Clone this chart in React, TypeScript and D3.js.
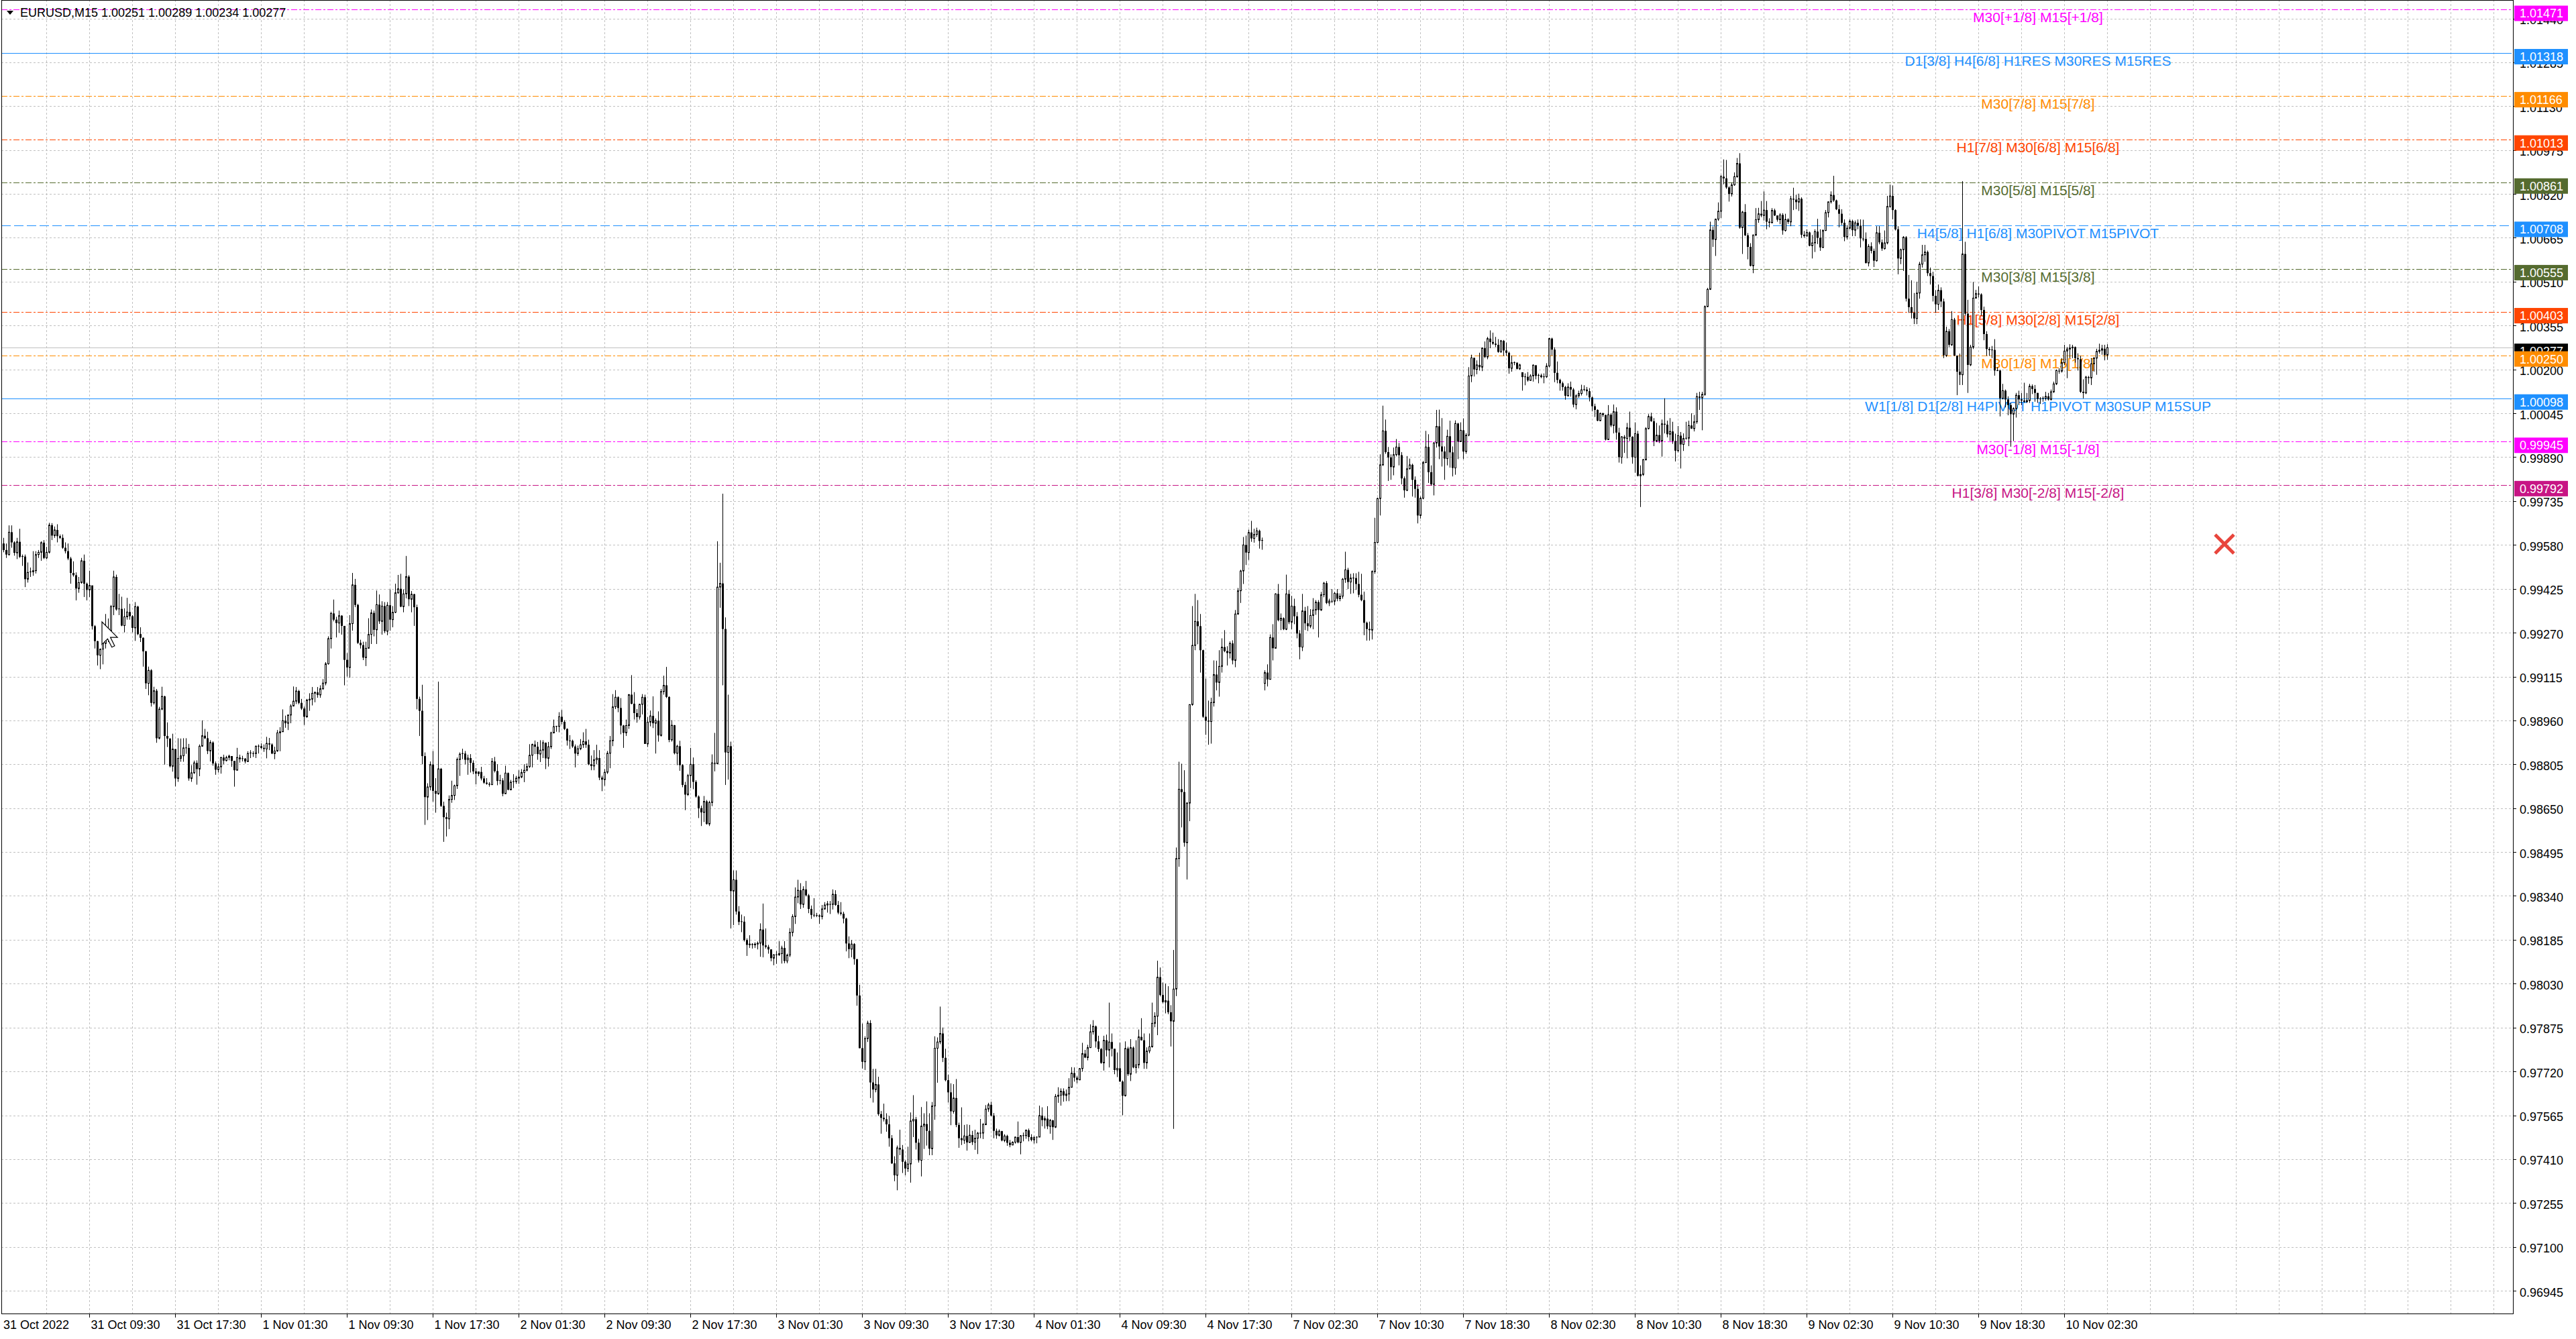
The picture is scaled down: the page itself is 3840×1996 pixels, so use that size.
import React from "react";
import * as d3 from "d3";

// EURUSD M15 bars, prices in points (1 pt = 0.00001). Each bar: [high, low, close]; open = previous close
const oct31: number[][] = [
[99605,99554,99562],[99585,99534,99546],[99649,99542,99625],[99649,99570,99589],[99593,99542,99552],[99605,99530,99591],[99637,99534,99538],[99546,99506,99539],[99546,99431,99459],[99518,99447,99483],
[99500,99467,99485],[99558,99471,99489],[99558,99479,99546],[99562,99534,99554],[99593,99524,99588],[99597,99530,99534],[99573,99530,99554],[99658,99550,99650],[99657,99597,99613],[99645,99605,99633],
[99653,99589,99611],[99617,99601,99605],[99617,99566,99570],[99589,99550,99558],[99585,99526,99532],[99538,99443,99481],[99522,99468,99473],[99483,99384,99426],[99467,99411,99447],[99534,99443,99524],
[99546,99396,99443],[99447,99384,99421],[99489,99396,99437],[99435,99281,99293],[99297,99214,99240],[99241,99154,99190],[99214,99141,99212],[99245,99158,99232],[99336,99214,99245],[99320,99237,99277],
[99368,99273,99362],[99489,99332,99467],[99475,99348,99352],[99407,99332,99354],[99397,99293,99295],[99356,99271,99326],[99393,99316,99343],[99372,99316,99328],[99332,99271,99287],[99378,99241,99362],
[99365,99261,99265],[99289,99237,99252],[99253,99150,99204],[99206,99071,99091],[99150,99049,99137],[99141,99009,99022],[99079,99016,99065],[99071,98881,98897],[99008,98893,99000],[99079,98996,99045],
[99047,98804,98905],[98953,98866,98896],[98897,98794,98798],[98913,98779,98859],[98854,98727,98755],[98897,98743,98826],[98896,98814,98835],[98897,98814,98863],[98897,98842,98863],[98877,98747,98755],
[98802,98743,98775],[98818,98771,98810],[98819,98733,98788],[98875,98763,98869],[98960,98867,98906],[98930,98894,98897],[98920,98841,98852],[98890,98815,98882],[98886,98800,98808],[98815,98768,98786],
[98808,98776,98796],[98831,98772,98829],[98839,98805,98818],[98835,98815,98829],[98839,98819,98834],[98834,98796,98817],[98804,98726,98784],[98863,98784,98829],[98839,98811,98823],[98835,98815,98825]
];
const nov1: number[][] = [
[98827,98808,98815],[98851,98813,98843],[98855,98827,98845],[98851,98831,98843],[98871,98827,98869],[98875,98843,98869],[98879,98859,98863],[98875,98849,98859],[98902,98826,98879],[98898,98855,98875],
[98879,98841,98843],[98867,98823,98852],[98926,98849,98916],[98936,98851,98920],[98999,98922,98959],[98977,98934,98950],[98981,98926,98979],[99017,98950,99011],[99080,99009,99028],[99078,99018,99064],
[99068,99017,99022],[99036,98997,99002],[99009,98944,98973],[99036,98969,99032],[99056,98994,99035],[99078,99013,99056],[99062,99024,99059],[99078,99040,99050],[99084,99040,99072],[99106,99068,99092],
[99166,99084,99160],[99257,99157,99249],[99344,99214,99338],[99387,99310,99316],[99326,99253,99304],[99348,99269,99330],[99332,99263,99294],[99293,99084,99174],[99198,99115,99147],[99332,99111,99302],
[99481,99277,99439],[99460,99360,99368],[99372,99230,99234],[99245,99214,99226],[99238,99173,99182],[99238,99152,99215],[99321,99214,99264],[99352,99230,99340],[99348,99257,99280],[99419,99230,99369],
[99405,99301,99310],[99381,99263,99364],[99378,99269,99275],[99378,99261,99367],[99423,99277,99316],[99364,99289,99342],[99443,99339,99411],[99474,99407,99425],[99478,99360,99362],[99423,99342,99407],
[99541,99391,99468],[99473,99364,99388],[99417,99342,99406],[99407,99294,99360],[99369,98999,99036],[99044,98905,98994],[99086,98805,98834],[98847,98591,98689],[98738,98608,98725],[98815,98713,98804],
[98852,98673,98711],[98756,98634,98701],[99097,98697,98789],[98792,98654,98658],[98673,98531,98618],[98634,98550,98612],[98695,98576,98681],[98747,98669,98695],[98733,98679,98729],[98829,98718,98822],
[98847,98764,98841],[98860,98823,98843],[98852,98805,98821],[98839,98768,98827],[98841,98776,98810],[98819,98770,98780],[98792,98734,98772],[98780,98763,98778],[98796,98748,98755],[98764,98736,98740],
[98756,98733,98736],[98742,98726,98733],[98827,98733,98815],[98831,98776,98781],[98805,98731,98746],[98768,98734,98748]
];
const nov2: number[][] = [
[98756,98692,98701],[98800,98701,98774],[98776,98713,98715],[98750,98713,98742],[98770,98721,98744],[98764,98736,98756],[98784,98736,98760],[98788,98756,98776],[98805,98742,98784],[98808,98780,98797],
[98876,98792,98837],[98878,98794,98875],[98889,98841,98867],[98884,98821,98841],[98890,98813,98855],[98890,98827,98881],[98882,98788,98826],[98884,98797,98867],[98920,98859,98916],[98963,98914,98938],
[98941,98920,98939],[98989,98918,98973],[98997,98946,98955],[98961,98926,98930],[98932,98871,98889],[98908,98859,98888],[98892,98863,98868],[98875,98794,98843],[98871,98835,98860],[98894,98855,98874],
[98918,98863,98886],[98930,98863,98874],[98892,98802,98805],[98836,98784,98799],[98855,98784,98821],[98874,98805,98827],[98855,98749,98758],[98765,98710,98751],[98788,98729,98777],[98852,98771,98844],
[98905,98791,98888],[99053,98869,99008],[99067,99000,99042],[99045,98989,99004],[99039,98911,98942],[98944,98863,98916],[98963,98905,98942],[99053,98930,99051],[99120,99017,99019],[99060,98963,98986],
[99000,98952,98972],[99019,98963,99017],[99053,98981,99042],[99051,98877,98877],[98972,98866,98954],[98995,98939,98976],[99045,98933,98950],[98967,98843,98959],[98992,98885,98907],[99071,98903,99062],
[99118,99051,99084],[99149,99039,99043],[99045,98883,98891],[98961,98885,98943],[98944,98840,98844],[98874,98802,98869],[98888,98782,98802],[98805,98724,98732],[98743,98643,98698],[98771,98693,98765],
[98863,98721,98805],[98829,98717,98743],[98749,98687,98691],[98695,98615,98650],[98659,98587,98635],[98693,98601,98674],[98679,98592,98594],[98676,98587,98670],[98840,98657,98810],[98916,98780,98807],
[99593,98805,99431],[99517,99358,99444],[99761,99084,99283],[99324,98732,98847],[99051,98751,98869],[98885,98225,98357],[98430,98237,98397],[98430,98274,98285],[98304,98237,98248],[98274,98212,98249],
[98268,98179,98184],[98190,98128,98167],[98201,98156,98170],[98173,98154,98167],[98176,98156,98170],[98179,98151,98173]
];
const nov3: number[][] = [
[98243,98125,98221],[98313,98123,98165],[98225,98154,98160],[98167,98136,98151],[98151,98109,98120],[98134,98095,98132],[98145,98100,98132],[98180,98128,98136],[98164,98101,98156],[98180,98102,98110],
[98136,98102,98131],[98226,98124,98211],[98275,98197,98267],[98370,98241,98336],[98397,98314,98360],[98385,98294,98310],[98374,98298,98363],[98393,98338,98342],[98347,98279,98294],[98306,98259,98273],
[98332,98265,98272],[98280,98265,98271],[98275,98241,98267],[98308,98257,98294],[98318,98291,98308],[98322,98281,98312],[98322,98276,98310],[98363,98292,98346],[98360,98305,98308],[98322,98275,98281],
[98318,98271,98277],[98284,98243,98260],[98263,98144,98172],[98197,98120,98152],[98184,98123,98170],[98173,98097,98117],[98113,97952,97988],[98026,97802,97802],[97889,97730,97754],[97844,97725,97836],
[97899,97824,97891],[97901,97626,97681],[97729,97610,97656],[97729,97646,97674],[97701,97563,97569],[97580,97500,97556],[97606,97543,97551],[97572,97507,97533],[97563,97454,97484],[97495,97393,97395],
[97420,97332,97353],[97458,97300,97450],[97514,97424,97444],[97460,97361,97401],[97406,97353,97377],[97454,97365,97393],[97575,97327,97545],[97636,97488,97551],[97559,97444,97468],[97482,97398,97406],
[97594,97349,97527],[97572,97446,97534],[97614,97458,97510],[97572,97424,97447],[97612,97424,97598],[97844,97549,97802],[97840,97680,97824],[97949,97816,97854],[97875,97753,97768],[97800,97685,97689],
[97709,97610,97646],[97678,97530,97579],[97675,97571,97626],[97693,97523,97531],[97539,97450,97484],[97593,97460,97477],[97531,97464,97492],[97533,97440,97469],[97531,97468,97495],[97510,97460,97470],
[97514,97443,97484],[97506,97428,97502],[97552,97484,97502],[97538,97481,97532],[97601,97530,97587],[97609,97577,97602],[97613,97561,97564],[97573,97484,97510],[97518,97482,97494],[97515,97490,97509],
[97510,97473,97476],[97498,97470,97492],[97496,97457,97468],[97478,97452,97460],[97473,97462,97470],[97489,97465,97488]
];
const nov4: number[][] = [
[97543,97466,97469],[97495,97427,97493],[97504,97473,97493],[97515,97482,97512],[97518,97473,97488],[97498,97473,97478],[97492,97465,97486],[97490,97466,97488],[97599,97488,97564],[97593,97526,97548],
[97561,97518,97553],[97597,97516,97526],[97552,97500,97547],[97549,97478,97523],[97640,97520,97632],[97664,97609,97636],[97660,97599,97650],[97660,97613,97635],[97656,97615,97640],[97696,97615,97664],
[97735,97663,97714],[97734,97684,97698],[97704,97678,97690],[97731,97692,97730],[97821,97719,97783],[97796,97767,97769],[97814,97759,97804],[97886,97803,97860],[97901,97850,97879],[97882,97804,97826],
[97846,97789,97799],[97803,97747,97750],[97846,97723,97830],[97850,97773,97795],[97963,97734,97824],[97854,97773,97800],[97799,97710,97725],[97787,97700,97731],[97822,97684,97684],[97688,97565,97634],
[97826,97631,97801],[97807,97704,97710],[97834,97686,97804],[97808,97731,97734],[97830,97713,97743],[97868,97731,97842],[97908,97829,97830],[97854,97729,97750],[97805,97729,97792],[97854,97784,97807],
[97963,97804,97890],[97929,97876,97915],[98111,97848,98053],[98087,97985,97990],[98034,97961,97965],[98030,97925,97970],[98021,97922,97929],[97954,97808,97897],[98149,97517,98011],[98511,97986,98472],
[98814,98443,98717],[98807,98582,98707],[98784,98514,98528],[98671,98398,98668],[99016,98604,99016],[99364,99012,99225],[99407,99208,99310],[99385,99229,99293],[99336,99129,99208],[99210,98969,98973],
[99108,98909,98959],[99030,98874,98956],[99040,98878,99023],[99172,99009,99122],[99171,99066,99094],[99208,99044,99151],[99250,99129,99219],[99279,99201,99205],[99222,99154,99198],[99239,99179,99232],
[99243,99158,99172],[99350,99148,99336],[99428,99333,99418],[99492,99375,99488],[99608,99442,99580],[99613,99509,99553],[99634,99527,99624],[99665,99591,99603],[99637,99588,99617],[99641,99608,99630],
[99634,99567,99594],[99606,99563,99596]
];
const nov7: number[][] = [
[99137,99066,99129],[99158,99080,99105],[99264,99115,99253],[99300,99172,99215],[99409,99215,99407],[99442,99310,99314],[99338,99279,99321],[99324,99279,99282],[99475,99279,99407],[99421,99300,99307],
[99400,99282,99364],[99390,99300,99328],[99343,99250,99267],[99279,99176,99219],[99407,99205,99347],[99361,99279,99303],[99364,99276,99293],[99353,99286,99331],[99392,99282,99350],[99385,99333,99378],
[99385,99253,99350],[99414,99347,99404],[99449,99395,99445],[99452,99371,99375],[99390,99364,99382],[99424,99375,99381],[99414,99367,99409],[99424,99381,99390],[99409,99381,99399],[99463,99390,99459],
[99556,99446,99492],[99499,99424,99449],[99478,99407,99463],[99480,99409,99463],[99480,99421,99442],[99485,99395,99404],[99478,99381,99385],[99415,99261,99305],[99309,99242,99283],[99309,99242,99279],
[99490,99246,99486],[99676,99478,99589],[99747,99586,99744],[99900,99684,99863],[100072,99859,99983],[100023,99902,99908],[99926,99806,99889],[99900,99810,99855],[99924,99826,99899],[99954,99893,99926],
[99940,99861,99897],[99908,99794,99815],[99822,99747,99773],[99894,99770,99849],[99885,99847,99863],[99867,99751,99810],[99822,99747,99778],[99794,99656,99684],[99751,99673,99745],[99877,99741,99871],
[99983,99869,99926],[99971,99799,99837],[99861,99790,99794],[99944,99755,99940],[100057,99924,99999],[100058,99883,99928],[100028,99857,99910],[99928,99810,99885],[99987,99861,99964],[100019,99853,99907],
[99928,99822,99852],[100020,99828,100009],[100011,99883,99945],[100013,99944,99985],[100027,99883,99910],[99975,99902,99968],[100208,99964,100177],[100252,100155,100241],[100241,100175,100200],[100232,100183,100216],
[100259,100196,100208],[100278,100194,100275],[100299,100240,100244],[100315,100236,100309],[100338,100275,100297],[100330,100287,100291],[100315,100279,100287],[100307,100259,100262],[100304,100259,100301],[100304,100248,100267],
[100295,100248,100259],[100263,100185,100204],[100249,100192,100224],[100228,100215,100224],[100224,100200,100202],[100220,100199,100216]
];
const nov8: number[][] = [
[100186,100125,100173],[100186,100144,100174],[100191,100157,100161],[100183,100170,100177],[100218,100157,100215],[100212,100165,100177],[100185,100151,100179],[100185,100169,100173],[100186,100151,100174],[100222,100170,100212],
[100312,100208,100309],[100312,100249,100270],[100278,100155,100188],[100228,100151,100163],[100167,100125,100151],[100157,100125,100138],[100142,100093,100107],[100151,100104,100138],[100157,100104,100129],[100134,100066,100076],
[100112,100059,100107],[100125,100100,100115],[100146,100108,100128],[100144,100123,100129],[100138,100108,100123],[100134,100087,100101],[100104,100053,100070],[100079,100032,100057],[100059,100017,100019],[100047,100017,100045],
[100047,100032,100039],[100040,99949,99952],[100074,99952,100040],[100045,99996,100002],[100076,99974,100051],[100066,99952,99977],[99994,99871,99890],[99964,99867,99962],[99968,99905,99956],[100011,99886,99994],
[100051,99947,99962],[99964,99867,99890],[100013,99835,99973],[99983,99822,99824],[99861,99714,99829],[99884,99824,99881],[99996,99878,99991],[100042,99988,100034],[100047,100015,100017],[100028,99929,99947],
[100011,99943,99968],[100002,99940,99947],[100023,99892,100008],[100098,99974,100005],[100019,99960,99971],[100028,99947,99981],[100015,99937,99947],[99973,99875,99913],[100000,99907,99966],[99979,99850,99935],
[99974,99912,99956],[100015,99952,99957],[100019,99929,100002],[100045,99990,99991],[100039,99981,100015],[100117,100008,100104],[100121,100057,100100],[100121,99985,100112],[100426,100107,100422],[100488,100420,100483],
[100722,100481,100693],[100705,100633,100659],[100733,100601,100731],[100790,100725,100759],[100887,100735,100881],[100942,100854,100875],[100940,100838,100843],[100847,100793,100820],[100860,100811,100852],[100896,100849,100881],
[100947,100877,100928],[100964,100697,100701],[100760,100608,100756],[100784,100671,100674],[100682,100589,100633],[100646,100564,100566],[100676,100540,100675],[100770,100671,100729],[100771,100718,100750],[100795,100738,100744],
[100829,100726,100763],[100795,100695,100722],[100734,100702,100718],[100770,100718,100762],[100768,100742,100744],[100742,100722,100729]
];
const nov9: number[][] = [
[100752,100713,100746],[100752,100676,100691],[100750,100687,100730],[100734,100714,100721],[100813,100706,100803],[100842,100763,100800],[100817,100766,100791],[100821,100760,100803],[100808,100665,100676],[100689,100665,100671],
[100695,100675,100684],[100687,100635,100637],[100675,100592,100647],[100695,100615,100687],[100732,100643,100665],[100695,100619,100631],[100695,100629,100691],[100763,100689,100754],[100793,100737,100792],[100829,100786,100816],
[100884,100792,100797],[100800,100763,100766],[100782,100702,100750],[100766,100710,100718],[100730,100653,100668],[100710,100659,100699],[100730,100695,100724],[100729,100671,100692],[100726,100671,100718],[100730,100695,100708],
[100730,100631,100663],[100729,100653,100661],[100684,100574,100576],[100643,100564,100635],[100649,100610,100619],[100627,100562,100584],[100706,100581,100683],[100706,100642,100649],[100659,100619,100627],[100691,100623,100647],
[100813,100642,100776],[100853,100771,100813],[100850,100730,100763],[100766,100691,100695],[100706,100536,100592],[100627,100572,100623],[100671,100548,100667],[100671,100440,100450],[100534,100400,100420],[100515,100380,100400],
[100470,100360,100380],[100510,100360,100470],[100580,100450,100572],[100640,100560,100605],[100640,100580,100615],[100620,100530,100540],[100560,100500,100530],[100545,100440,100460],[100480,100400,100430],[100500,100410,100480],
[100490,100420,100440],[100450,100240,100250],[100351,100244,100335],[100343,100279,100287],[100406,100283,100376],[100382,100248,100249],[100248,100109,100192],[100256,100145,100181],[100865,100145,100608],[100651,100390,100397],
[100446,100117,100216],[100287,100212,100279],[100509,100272,100452],[100481,100450,100468],[100493,100454,100465],[100469,100390,100410],[100422,100303,100325],[100335,100248,100272],[100279,100248,100268],[100283,100240,100269],
[100307,100178,100196],[100208,100194,100196],[100199,100034,100098],[100149,100094,100125],[100129,100066,100094],[100105,100038,100074],[100082,99927,100042],[100066,99947,100062],[100117,100030,100109],[100125,100074,100094],
[100117,100074,100090],[100153,100082,100086],[100117,100082,100090],[100149,100082,100141],[100147,100113,100131],[100145,100086,100117]
];
const nov10: number[][] = [
[100117,100082,100096],[100102,100078,100096],[100105,100086,100098],[100121,100090,100105],[100117,100090,100094],[100129,100090,100121],[100157,100117,100149],[100200,100145,100196],[100204,100185,100194],[100240,100189,100224],
[100287,100215,100265],[100279,100169,100272],[100289,100240,100276],[100287,100240,100279],[100281,100224,100240],[100257,100196,100236],[100248,100117,100121],[100165,100098,100117],[100177,100113,100173],[100177,100149,100170],
[100240,100145,100220],[100244,100192,100240],[100273,100181,100264],[100291,100256,100268],[100287,100252,100273],[100287,100232,100251],[100289,100234,100277]
];
const sessions = [oct31, nov1, nov2, nov3, nov4, nov7, nov8, nov9, nov10];
const sessionOpens = [99585, 98825, 98748, 98173, 97488, 99091, 100190, 100729, 100117];

const symbolName = "EURUSD,M15";
const lastOHLC = [1.00251, 1.00289, 1.00234, 1.00277];

const timeLabels = [
  "31 Oct 2022", "31 Oct 09:30", "31 Oct 17:30", "1 Nov 01:30", "1 Nov 09:30", "1 Nov 17:30",
  "2 Nov 01:30", "2 Nov 09:30", "2 Nov 17:30", "3 Nov 01:30", "3 Nov 09:30", "3 Nov 17:30",
  "4 Nov 01:30", "4 Nov 09:30", "4 Nov 17:30", "7 Nov 02:30", "7 Nov 10:30", "7 Nov 18:30",
  "8 Nov 02:30", "8 Nov 10:30", "8 Nov 18:30", "9 Nov 02:30", "9 Nov 10:30", "9 Nov 18:30", "10 Nov 02:30"
];
const priceTicks = [
  0.96945, 0.971, 0.97255, 0.9741, 0.97565, 0.9772, 0.97875, 0.9803, 0.98185, 0.9834,
  0.98495, 0.9865, 0.98805, 0.9896, 0.99115, 0.9927, 0.99425, 0.9958, 0.99735, 0.9989,
  1.00045, 1.002, 1.00355, 1.0051, 1.00665, 1.0082, 1.00975, 1.0113, 1.01285, 1.0144
];
const levelPrices = [1.01471, 1.01318, 1.01166, 1.01013, 1.00861, 1.00708, 1.00555, 1.00403, 1.0025, 1.00098, 0.99945, 0.99792];
const levelTexts = [
  "M30[+1/8] M15[+1/8]",
  "D1[3/8] H4[6/8] H1RES M30RES M15RES",
  "M30[7/8] M15[7/8]",
  "H1[7/8] M30[6/8] M15[6/8]",
  "M30[5/8] M15[5/8]",
  "H4[5/8] H1[6/8] M30PIVOT M15PIVOT",
  "M30[3/8] M15[3/8]",
  "H1[5/8] M30[2/8] M15[2/8]",
  "M30[1/8] M15[1/8]",
  "W1[1/8] D1[2/8] H4PIVOT H1PIVOT M30SUP M15SUP",
  "M30[-1/8] M15[-1/8]",
  "H1[3/8] M30[-2/8] M15[-2/8]"
];

// ---- styles ----
const MAG = "#FF00FF", BLUE = "#1E90FF", ORG = "#FF8C00", RED = "#FF4500", OLV = "#556B2F", VIO = "#C71585";
const levelColors = [MAG, BLUE, ORG, RED, OLV, BLUE, OLV, RED, ORG, BLUE, MAG, VIO];
const DD = "9,3,3,3";
const levelDash = [DD, "", DD, DD, DD, "14,5", DD, DD, DD, "", DD, DD];
const FONT = "'Liberation Sans', Arial, sans-serif";

const W = 3840, H = 1996;
const PLOT_L = 2, PLOT_R = 3746, PLOT_B = 1958;

export default function App() {
  const bars: { o: number; h: number; l: number; c: number }[] = [];
  let prevClose = 0;
  sessions.forEach((s, si) => {
    s.forEach((b, bi) => {
      const oPts = bi === 0 ? sessionOpens[si] : prevClose;
      bars.push({ o: oPts / 1e5, h: b[0] / 1e5, l: b[1] / 1e5, c: b[2] / 1e5 });
      prevClose = b[2];
    });
  });
  const n = bars.length;
  const x = d3.scaleLinear().domain([0, 1]).range([5.5, 9.5]);
  const y = d3.scaleLinear().domain([0.96945, 1.0144]).range([1924.1, 27.5]);

  const vGrid: number[] = [];
  for (let k = 16; x(k) < PLOT_R; k += 16) vGrid.push(x(k));

  const lastClose = bars[n - 1].c;
  const ry = (p: number) => Math.round(y(p)) + 0.5;

  return (
    <svg width={W} height={H} style={{ position: "absolute", left: 0, top: 0, background: "#fff" }}>
      <rect x={0} y={0} width={W} height={H} fill="#fff" />
      {/* grid */}
      <g stroke="#C0C0C0" strokeWidth={1} strokeDasharray="3,3">
        {priceTicks.map((p, i) => (
          <line key={"h" + i} x1={PLOT_L} x2={PLOT_R} y1={ry(p)} y2={ry(p)} />
        ))}
        {vGrid.map((gx, i) => (
          <line key={"v" + i} x1={gx} x2={gx} y1={0} y2={PLOT_B} />
        ))}
      </g>
      {/* level lines */}
      {levelPrices.map((p, i) => (
        <line key={"lv" + i} x1={PLOT_L} x2={PLOT_R - 2} y1={ry(p)} y2={ry(p)}
          stroke={levelColors[i]} strokeWidth={1} strokeDasharray={levelDash[i] || undefined} />
      ))}
      {/* bid line */}
      <line x1={PLOT_L} x2={PLOT_R} y1={ry(lastClose)} y2={ry(lastClose)} stroke="#C0C0C0" strokeWidth={1} />
      {/* level texts */}
      {levelPrices.map((p, i) => (
        <text key={"lt" + i} x={3038} y={y(p) + 19} fill={levelColors[i]} fontFamily={FONT} fontSize={21} textAnchor="middle">
          {levelTexts[i]}
        </text>
      ))}
      {/* candles */}
      <g>
        {bars.map((b, i) => {
          const cx = x(i);
          const yo = y(b.o), yc = y(b.c), yh = y(b.h), yl = y(b.l);
          const top = Math.min(yo, yc), hgt = Math.abs(yo - yc);
          return (
            <g key={"c" + i}>
              <line x1={cx} x2={cx} y1={yh} y2={yl} stroke="#000" strokeWidth={1} />
              {hgt < 1 ? (
                <line x1={cx - 1.5} x2={cx + 1.5} y1={yc} y2={yc} stroke="#000" strokeWidth={1} />
              ) : b.c >= b.o ? (
                <rect x={cx - 1} y={top} width={2} height={hgt} fill="#fff" stroke="#000" strokeWidth={1} />
              ) : (
                <rect x={cx - 1.5} y={top} width={3} height={hgt} fill="#000" />
              )}
            </g>
          );
        })}
      </g>
      {/* red cross object */}
      <g stroke="#E8453C" strokeWidth={5}>
        <line x1={3302} y1={797} x2={3330} y2={825} />
        <line x1={3330} y1={797} x2={3302} y2={825} />
      </g>
      {/* mouse cursor */}
      <polygon
        points={[[0, 0], [0, 33.6], [8.4, 25.2], [14.7, 37.8], [18.9, 35.7], [12.6, 23.1], [23.1, 23.1]].map(([a, b2]) => `${152 + a},${927 + b2}`).join(" ")}
        fill="#fff" stroke="#000" strokeWidth={1.2} />
      {/* frame */}
      <line x1={PLOT_L + 0.5} x2={PLOT_L + 0.5} y1={0} y2={PLOT_B} stroke="#000" strokeWidth={1} />
      <line x1={PLOT_L} x2={PLOT_R} y1={0.5} y2={0.5} stroke="#000" strokeWidth={1} />
      <line x1={PLOT_L} x2={PLOT_R + 1} y1={PLOT_B + 0.5} y2={PLOT_B + 0.5} stroke="#000" strokeWidth={1} />
      <line x1={PLOT_R + 0.5} x2={PLOT_R + 0.5} y1={0} y2={PLOT_B + 1} stroke="#000" strokeWidth={1} />
      {/* price axis */}
      {priceTicks.map((p, i) => (
        <g key={"pt" + i}>
          <line x1={PLOT_R} x2={PLOT_R + 5} y1={ry(p)} y2={ry(p)} stroke="#000" />
          <text x={3756} y={y(p) + 8.5} fontFamily={FONT} fontSize={18} fill="#000">{p.toFixed(5)}</text>
        </g>
      ))}
      {/* price tags */}
      {levelPrices.map((p, i) => i === 8 ? null : (
        <g key={"tag" + i}>
          <rect x={3748} y={y(p) - 6} width={80} height={23} fill={levelColors[i]} />
          <text x={3756} y={y(p) + 12} fontFamily={FONT} fontSize={18} fill="#fff">{p.toFixed(5)}</text>
        </g>
      ))}
      <g>
        <rect x={3748} y={y(lastClose) - 6} width={80} height={23} fill="#000" />
        <text x={3756} y={y(lastClose) + 12} fontFamily={FONT} fontSize={18} fill="#fff">{lastClose.toFixed(5)}</text>
      </g>
      <g>
        <rect x={3748} y={y(levelPrices[8]) - 6} width={80} height={23} fill={levelColors[8]} />
        <text x={3756} y={y(levelPrices[8]) + 12} fontFamily={FONT} fontSize={18} fill="#fff">{levelPrices[8].toFixed(5)}</text>
      </g>
      {/* time axis */}
      {timeLabels.map((t, k) => {
        const gx = x(32 * k);
        return (
          <g key={"tl" + k}>
            {k > 0 && <line x1={gx} x2={gx} y1={PLOT_B} y2={PLOT_B + 6} stroke="#000" />}
            <text x={k === 0 ? 5 : gx + 2} y={1981} fontFamily={FONT} fontSize={18} fill="#000">{t}</text>
          </g>
        );
      })}
      {/* header */}
      <polygon points="10,16 20,16 15,22" fill="#000" />
      <text x={30} y={25} fontFamily={FONT} fontSize={18} fill="#000">
        {symbolName + "  " + lastOHLC.map((v) => v.toFixed(5)).join(" ")}
      </text>
    </svg>
  );
}
